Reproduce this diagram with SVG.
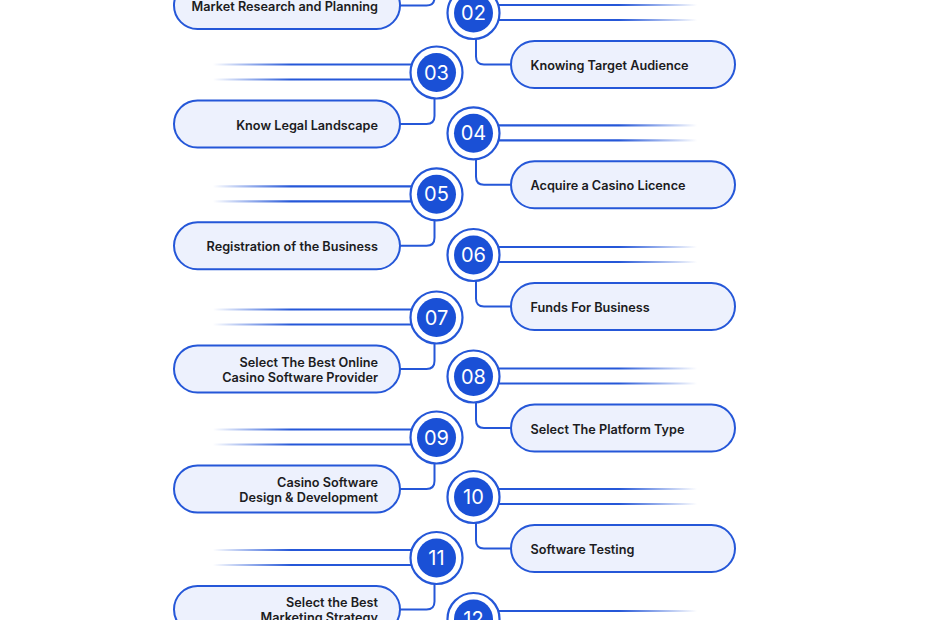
<svg xmlns="http://www.w3.org/2000/svg" width="930" height="620" viewBox="0 0 930 620">
<style>
.pill{fill:#edf1fd;stroke:#2557d8;stroke-width:2}
.ring{fill:#fff;stroke:#2557d8;stroke-width:2.2}
.dot{fill:#1a50d6}
.num{font-family:Inter,"Noto Sans",sans-serif;font-size:20px;font-weight:400;fill:#fff;text-anchor:middle}
.lbl{font-family:Inter,"Noto Sans",sans-serif;font-size:12.7px;font-weight:600;fill:#1c1c22}
.l{text-anchor:end}
.conn{fill:none;stroke:#2557d8;stroke-width:2}
.gl{stroke:url(#gl);stroke-width:2.2}
.gr{stroke:url(#gr);stroke-width:2.2}
</style>
<defs>
<linearGradient id="gl" gradientUnits="userSpaceOnUse" x1="213" y1="0" x2="436" y2="0">
<stop offset="0" stop-color="#2557d8" stop-opacity="0"/>
<stop offset="0.35" stop-color="#2557d8" stop-opacity="1"/>
<stop offset="1" stop-color="#2557d8"/>
</linearGradient>
<linearGradient id="gr" gradientUnits="userSpaceOnUse" x1="473.5" y1="0" x2="697" y2="0">
<stop offset="0" stop-color="#2557d8"/>
<stop offset="0.65" stop-color="#2557d8" stop-opacity="1"/>
<stop offset="1" stop-color="#2557d8" stop-opacity="0"/>
</linearGradient>
</defs>
<rect width="930" height="620" fill="#fff"/>
<g id="connectors">
<path class="conn" d="M434.5 -20 V-2.5 Q434.5 5.5 426.5 5.5 H400"/>
<path class="conn" d="M476 39 V56.5 Q476 64.5 484 64.5 H511"/>
<path class="conn" d="M434.5 98.5 V116 Q434.5 124 426.5 124 H400"/>
<path class="conn" d="M476 159.3 V176.8 Q476 184.8 484 184.8 H511"/>
<path class="conn" d="M434.5 220.3 V237.8 Q434.5 245.8 426.5 245.8 H400"/>
<path class="conn" d="M476 281 V298.5 Q476 306.5 484 306.5 H511"/>
<path class="conn" d="M434.5 343.5 V361 Q434.5 369 426.5 369 H400"/>
<path class="conn" d="M476 402.5 V420 Q476 428 484 428 H511"/>
<path class="conn" d="M434.5 463.5 V481 Q434.5 489 426.5 489 H400"/>
<path class="conn" d="M476 523 V540.5 Q476 548.5 484 548.5 H511"/>
<path class="conn" d="M434.5 584 V601.5 Q434.5 609.5 426.5 609.5 H400"/>
</g>
<g id="node01" transform="translate(0,-46)">
<rect class="pill" x="174" y="28" width="226" height="47" rx="23.5"/>
<text class="lbl l" x="378" y="57">Market Research and Planning</text>
</g>
<g id="node02" transform="translate(0,13)">
<line class="gr" x1="473.5" y1="-8" x2="697" y2="-8"/>
<line class="gr" x1="473.5" y1="7" x2="697" y2="7"/>
<circle class="ring" cx="473.5" cy="0" r="26"/>
<circle class="dot" cx="473.5" cy="0" r="19.5"/>
<text class="num" x="473.5" y="7">02</text>
<rect class="pill" x="511" y="28" width="224" height="47" rx="23.5"/>
<text class="lbl" x="530.5" y="57">Knowing Target Audience</text>
</g>
<g id="node03" transform="translate(0,72.5)">
<line class="gl" x1="213" y1="-8" x2="436.5" y2="-8"/>
<line class="gl" x1="213" y1="7" x2="436.5" y2="7"/>
<circle class="ring" cx="436.5" cy="0" r="26"/>
<circle class="dot" cx="436.5" cy="0" r="19.5"/>
<text class="num" x="436.5" y="7">03</text>
<rect class="pill" x="174" y="28" width="226" height="47" rx="23.5"/>
<text class="lbl l" x="378" y="57">Know Legal Landscape</text>
</g>
<g id="node04" transform="translate(0,133.3)">
<line class="gr" x1="473.5" y1="-8" x2="697" y2="-8"/>
<line class="gr" x1="473.5" y1="7" x2="697" y2="7"/>
<circle class="ring" cx="473.5" cy="0" r="26"/>
<circle class="dot" cx="473.5" cy="0" r="19.5"/>
<text class="num" x="473.5" y="7">04</text>
<rect class="pill" x="511" y="28" width="224" height="47" rx="23.5"/>
<text class="lbl" x="530.5" y="57">Acquire a Casino Licence</text>
</g>
<g id="node05" transform="translate(0,194.3)">
<line class="gl" x1="213" y1="-8" x2="436.5" y2="-8"/>
<line class="gl" x1="213" y1="7" x2="436.5" y2="7"/>
<circle class="ring" cx="436.5" cy="0" r="26"/>
<circle class="dot" cx="436.5" cy="0" r="19.5"/>
<text class="num" x="436.5" y="7">05</text>
<rect class="pill" x="174" y="28" width="226" height="47" rx="23.5"/>
<text class="lbl l" x="378" y="57">Registration of the Business</text>
</g>
<g id="node06" transform="translate(0,255)">
<line class="gr" x1="473.5" y1="-8" x2="697" y2="-8"/>
<line class="gr" x1="473.5" y1="7" x2="697" y2="7"/>
<circle class="ring" cx="473.5" cy="0" r="26"/>
<circle class="dot" cx="473.5" cy="0" r="19.5"/>
<text class="num" x="473.5" y="7">06</text>
<rect class="pill" x="511" y="28" width="224" height="47" rx="23.5"/>
<text class="lbl" x="530.5" y="57">Funds For Business</text>
</g>
<g id="node07" transform="translate(0,317.5)">
<line class="gl" x1="213" y1="-8" x2="436.5" y2="-8"/>
<line class="gl" x1="213" y1="7" x2="436.5" y2="7"/>
<circle class="ring" cx="436.5" cy="0" r="26"/>
<circle class="dot" cx="436.5" cy="0" r="19.5"/>
<text class="num" x="436.5" y="7">07</text>
<rect class="pill" x="174" y="28" width="226" height="47" rx="23.5"/>
<text class="lbl l" x="378" y="49">Select The Best Online</text>
<text class="lbl l" x="378" y="64">Casino Software Provider</text>
</g>
<g id="node08" transform="translate(0,376.5)">
<line class="gr" x1="473.5" y1="-8" x2="697" y2="-8"/>
<line class="gr" x1="473.5" y1="7" x2="697" y2="7"/>
<circle class="ring" cx="473.5" cy="0" r="26"/>
<circle class="dot" cx="473.5" cy="0" r="19.5"/>
<text class="num" x="473.5" y="7">08</text>
<rect class="pill" x="511" y="28" width="224" height="47" rx="23.5"/>
<text class="lbl" x="530.5" y="57">Select The Platform Type</text>
</g>
<g id="node09" transform="translate(0,437.5)">
<line class="gl" x1="213" y1="-8" x2="436.5" y2="-8"/>
<line class="gl" x1="213" y1="7" x2="436.5" y2="7"/>
<circle class="ring" cx="436.5" cy="0" r="26"/>
<circle class="dot" cx="436.5" cy="0" r="19.5"/>
<text class="num" x="436.5" y="7">09</text>
<rect class="pill" x="174" y="28" width="226" height="47" rx="23.5"/>
<text class="lbl l" x="378" y="49">Casino Software</text>
<text class="lbl l" x="378" y="64">Design &amp; Development</text>
</g>
<g id="node10" transform="translate(0,497)">
<line class="gr" x1="473.5" y1="-8" x2="697" y2="-8"/>
<line class="gr" x1="473.5" y1="7" x2="697" y2="7"/>
<circle class="ring" cx="473.5" cy="0" r="26"/>
<circle class="dot" cx="473.5" cy="0" r="19.5"/>
<text class="num" x="473.5" y="7">10</text>
<rect class="pill" x="511" y="28" width="224" height="47" rx="23.5"/>
<text class="lbl" x="530.5" y="57">Software Testing</text>
</g>
<g id="node11" transform="translate(0,558)">
<line class="gl" x1="213" y1="-8" x2="436.5" y2="-8"/>
<line class="gl" x1="213" y1="7" x2="436.5" y2="7"/>
<circle class="ring" cx="436.5" cy="0" r="26"/>
<circle class="dot" cx="436.5" cy="0" r="19.5"/>
<text class="num" x="436.5" y="7">11</text>
<rect class="pill" x="174" y="28" width="226" height="47" rx="23.5"/>
<text class="lbl l" x="378" y="49">Select the Best</text>
<text class="lbl l" x="378" y="64">Marketing Strategy</text>
</g>
<g id="node12" transform="translate(0,619)">
<line class="gr" x1="473.5" y1="-8" x2="697" y2="-8"/>
<circle class="ring" cx="473.5" cy="0" r="26"/>
<circle class="dot" cx="473.5" cy="0" r="19.5"/>
<text class="num" x="473.5" y="7">12</text>
</g>
</svg>
